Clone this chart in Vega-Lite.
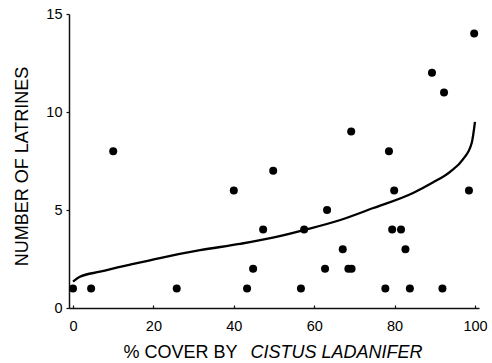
{
  "$schema": "https://vega.github.io/schema/vega-lite/v6.json",
  "width": 410,
  "height": 294,
  "autosize": "none",
  "padding": {"left": 69, "top": 14, "right": 13, "bottom": 55},
  "background": "white",
  "config": {
    "view": {"stroke": null},
    "font": "Liberation Sans",
    "axis": {
      "grid": false,
      "domainColor": "#111",
      "domainWidth": 1.5,
      "tickColor": "#111",
      "tickWidth": 1.2,
      "labelColor": "#000",
      "titleColor": "#000",
      "labelFont": "Liberation Sans",
      "titleFont": "Liberation Sans",
      "labelFontSize": 14.5,
      "titleFontSize": 18,
      "titleFontWeight": "normal"
    }
  },
  "datasets": {
    "points": [
      {"cover": 0, "latrines": 1},
      {"cover": 4.5, "latrines": 1},
      {"cover": 10, "latrines": 8},
      {"cover": 25.8, "latrines": 1},
      {"cover": 40, "latrines": 6},
      {"cover": 43.3, "latrines": 1},
      {"cover": 44.8, "latrines": 2},
      {"cover": 47.3, "latrines": 4},
      {"cover": 49.8, "latrines": 7},
      {"cover": 56.7, "latrines": 1},
      {"cover": 57.5, "latrines": 4},
      {"cover": 62.7, "latrines": 2},
      {"cover": 63.2, "latrines": 5},
      {"cover": 67.1, "latrines": 3},
      {"cover": 68.5, "latrines": 2},
      {"cover": 69.3, "latrines": 2},
      {"cover": 69.2, "latrines": 9},
      {"cover": 77.7, "latrines": 1},
      {"cover": 78.6, "latrines": 8},
      {"cover": 79.4, "latrines": 4},
      {"cover": 79.9, "latrines": 6},
      {"cover": 81.6, "latrines": 4},
      {"cover": 82.7, "latrines": 3},
      {"cover": 83.8, "latrines": 1},
      {"cover": 89.3, "latrines": 12},
      {"cover": 91.9, "latrines": 1},
      {"cover": 92.3, "latrines": 11},
      {"cover": 98.5, "latrines": 6},
      {"cover": 99.8, "latrines": 14}
    ],
    "curve": [
      {"cover": 0, "fit": 1.35},
      {"cover": 1.7, "fit": 1.59},
      {"cover": 6.7, "fit": 1.85},
      {"cover": 14, "fit": 2.2},
      {"cover": 21.6, "fit": 2.55},
      {"cover": 31.6, "fit": 2.95},
      {"cover": 41.5, "fit": 3.27},
      {"cover": 50, "fit": 3.6},
      {"cover": 57.5, "fit": 3.98},
      {"cover": 66.5, "fit": 4.49},
      {"cover": 74.7, "fit": 5.1},
      {"cover": 84.6, "fit": 5.87},
      {"cover": 89.5, "fit": 6.4},
      {"cover": 93.8, "fit": 6.95},
      {"cover": 97, "fit": 7.58},
      {"cover": 99.2, "fit": 8.43},
      {"cover": 100, "fit": 9.5}
    ]
  },
  "layer": [
    {
      "data": {"name": "points"},
      "mark": {"type": "point", "filled": true, "color": "#000", "opacity": 1, "size": 64},
      "encoding": {
        "x": {
          "field": "cover", "type": "quantitative",
          "scale": {"domain": [-1, 101], "nice": false, "zero": false},
          "axis": {
            "orient": "bottom",
            "values": [0, 20, 40, 60, 80, 100],
            "tickSize": -3,
            "labelPadding": 14,
            "title": "% COVER BY",
            "titleAlign": "left",
            "titleBaseline": "alphabetic",
            "titleX": 54,
            "titleY": 49.5
          }
        },
        "y": {
          "field": "latrines", "type": "quantitative",
          "scale": {"domain": [0, 15], "nice": false},
          "axis": {
            "values": [0, 5, 10, 15],
            "tickSize": 3,
            "labelPadding": 4,
            "title": "NUMBER OF LATRINES",
            "titleAngle": -90,
            "titleAlign": "center",
            "titleBaseline": "alphabetic",
            "titleX": -42,
            "titleY": 152
          }
        }
      }
    },
    {
      "data": {"name": "curve"},
      "mark": {"type": "line", "color": "#000", "strokeWidth": 2.3, "interpolate": "monotone"},
      "encoding": {
        "x": {
          "field": "cover", "type": "quantitative",
          "axis": {
            "orient": "top",
            "domain": false,
            "ticks": false,
            "labels": false,
            "title": "CISTUS LADANIFER",
            "titleFontStyle": "italic",
            "titleAlign": "left",
            "titleBaseline": "alphabetic",
            "titleX": 181,
            "titleY": 343.5
          }
        },
        "y": {"field": "fit", "type": "quantitative", "axis": null}
      }
    }
  ],
  "resolve": {"axis": {"x": "independent", "y": "independent"}}
}
